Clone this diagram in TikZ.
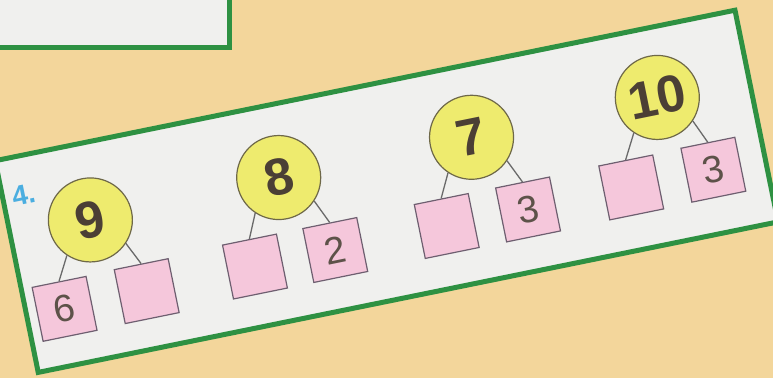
\documentclass[tikz,border=0pt]{standalone}
\usepackage{fontspec}
\setmainfont{Liberation Sans}
\usetikzlibrary{positioning}
\definecolor{sand}{HTML}{F3D69B}
\definecolor{leaf}{HTML}{2E9142}
\definecolor{paper}{HTML}{F0F0EE}
\definecolor{sun}{HTML}{EEEB6E}
\definecolor{blush}{HTML}{F5C7DB}
\definecolor{ink}{HTML}{4B3F35}
\definecolor{rim}{HTML}{6E6848}
\definecolor{boxline}{HTML}{6E5F70}
\definecolor{wire}{HTML}{6A6A6A}
\definecolor{sky}{HTML}{4BAEE0}
\tikzset{
  frame/.style={draw=leaf,line width=5pt,fill=paper},
  whole/.style={circle,draw=rim,line width=1.2pt,fill=sun,minimum size=84pt,inner sep=0pt,font=\fontsize{52}{52}\selectfont\bfseries,text=ink},
  part/.style={rectangle,draw=boxline,line width=1.2pt,fill=blush,minimum size=55pt,inner sep=0pt,font=\fontsize{38}{38}\selectfont,text=ink!90},
  link/.style={line width=1.3pt,wire},
  tasknum/.style={font=\fontsize{28}{28}\selectfont\bfseries,text=sky}
}

\begin{document}
\begin{tikzpicture}[x=1pt,y=1pt]
    \clip (0,0) rectangle (773,378);
    \fill[sand] (0,0) rectangle (773,378);
    \draw[frame] (-10,330) rectangle (229,392);
    \begin{scope}[shift={(386.6,186.7)},rotate=11.5,transform shape]
    \draw[frame] (-377.5,-108) rectangle (377.5,108);
    \node[tasknum] (task) at (-356,69) {4.};
    % first split: 9
    \node[whole] (c9) at (-296,31) {9};
    \node[part] (a9) at (-339,-51) {6};
    \node[part] (b9) at (-255,-50) {};
    % second split: 8
    \node[whole] (c8) at (-103,35) {8};
    \node[part] (a8) at (-144,-47.5) {};
    \node[part] (b8) at (-62,-47.3) {2};
    % third split: 7
    \node[whole] (c7) at (94,36) {7};
    \node[part] (a7) at (52,-46) {};
    \node[part] (b7) at (135,-46) {3};
    % fourth split: 10
    \node[whole] (c10) at (284,38) {10};
    \node[part] (a10) at (240.5,-45) {};
    \node[part] (b10) at (324.5,-44) {3};
    \draw[link] (c9.-135) -- (a9.north);
    \draw[link] (c9.-45) -- (b9.north);
    \draw[link] (c8.-135) -- (a8.north);
    \draw[link] (c8.-45) -- (b8.north);
    \draw[link] (c7.-135) -- (a7.north);
    \draw[link] (c7.-45) -- (b7.north);
    \draw[link] (c10.-135) -- (a10.north);
    \draw[link] (c10.-45) -- (b10.north);
    \end{scope}
  \end{tikzpicture}
\end{document}
